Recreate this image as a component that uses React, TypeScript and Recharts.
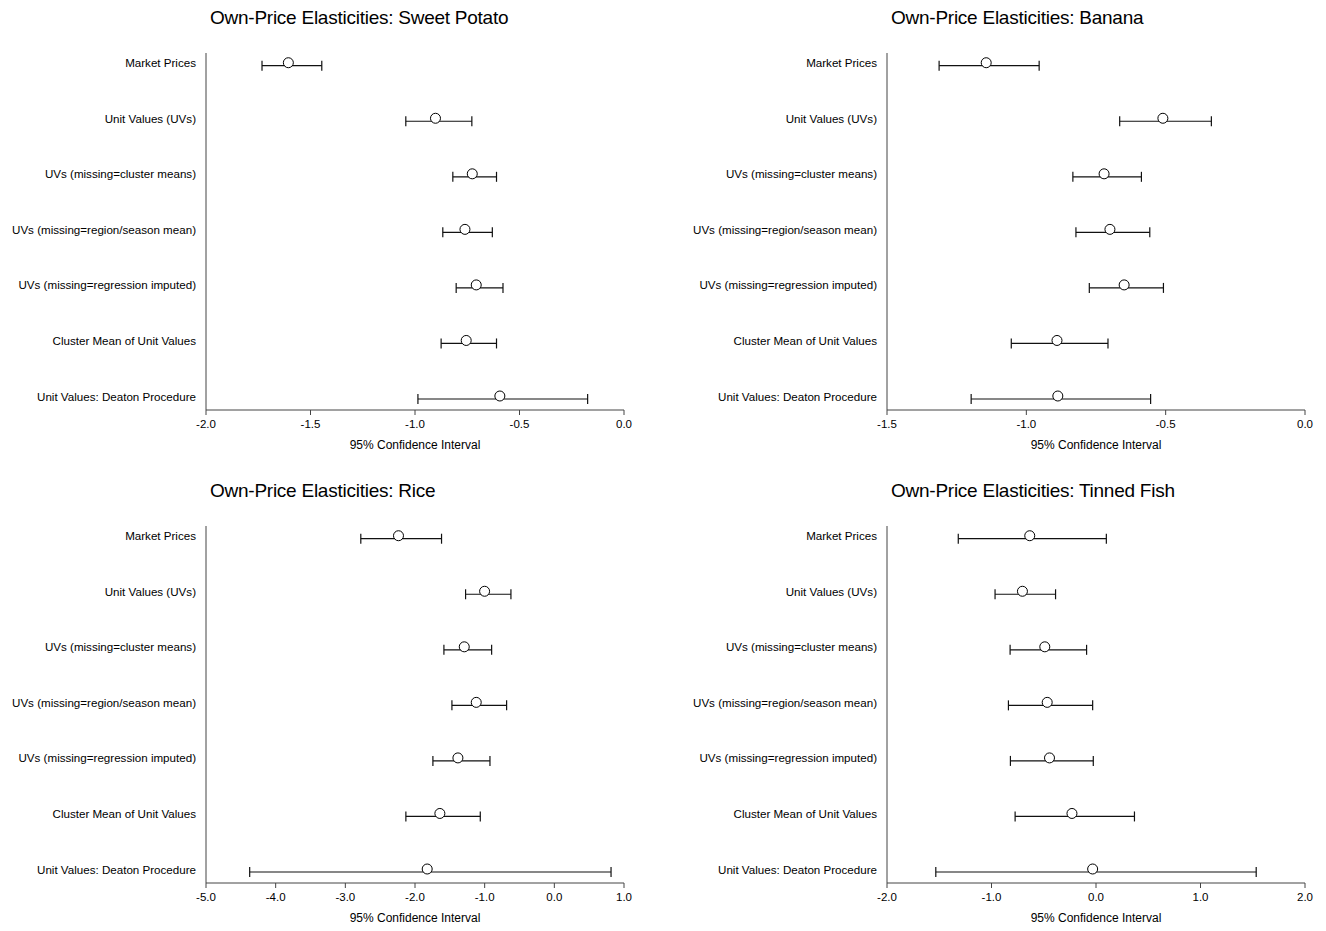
import React from "react";
import { ScatterChart, Scatter, XAxis, YAxis, ErrorBar } from "recharts";

const methods = [
  "Market Prices",
  "Unit Values (UVs)",
  "UVs (missing=cluster means)",
  "UVs (missing=region/season mean)",
  "UVs (missing=regression imputed)",
  "Cluster Mean of Unit Values",
  "Unit Values: Deaton Procedure",
];

const sweetPotatoEst = [-1.606, -0.902, -0.726, -0.761, -0.707, -0.755, -0.594];
const sweetPotatoLow = [-1.732, -1.044, -0.819, -0.867, -0.803, -0.875, -0.986];
const sweetPotatoHigh = [-1.446, -0.728, -0.61, -0.63, -0.579, -0.61, -0.174];

const bananaEst = [-1.144, -0.51, -0.721, -0.7, -0.649, -0.89, -0.887];
const bananaLow = [-1.313, -0.665, -0.833, -0.822, -0.774, -1.054, -1.198];
const bananaHigh = [-0.954, -0.336, -0.587, -0.557, -0.508, -0.707, -0.554];

const riceEst = [-2.237, -1.001, -1.293, -1.121, -1.384, -1.643, -1.825];
const riceLow = [-2.778, -1.274, -1.585, -1.47, -1.743, -2.131, -4.373];
const riceHigh = [-1.619, -0.623, -0.9, -0.685, -0.924, -1.063, 0.814];

const fishEst = [-0.634, -0.704, -0.49, -0.467, -0.445, -0.23, -0.032];
const fishLow = [-1.318, -0.966, -0.822, -0.838, -0.819, -0.774, -1.533];
const fishHigh = [0.099, -0.387, -0.09, -0.032, -0.026, 0.368, 1.533];

const sweetPotatoTicks = [-2, -1.5, -1, -0.5, 0];
const bananaTicks = [-1.5, -1, -0.5, 0];
const riceTicks = [-5, -4, -3, -2, -1, 0, 1];
const fishTicks = [-2, -1, 0, 1, 2];

const FONT = "'Liberation Sans', Arial, Helvetica, sans-serif";
const AXIS = "#444";

const makeRows = (est: number[], low: number[], high: number[]) =>
  est.map((e, i) => ({
    row: i + 1,
    est: e,
    err: [e - low[i], high[i] - e],
  }));

const MethodTick = (props: any) => {
  const { x, y, payload } = props;
  return (
    <text
      x={x}
      y={y - 3}
      textAnchor="end"
      dominantBaseline="central"
      fontSize={11.6}
      fill="#000"
      fontFamily={FONT}
    >
      {methods[payload.value - 1]}
    </text>
  );
};

const Dot = (props: any) => (
  <circle cx={props.cx} cy={props.cy - 3} r={5} fill="#fff" stroke="#000" strokeWidth={1} />
);

function Panel({
  title,
  rows,
  ticks,
  left,
  top,
}: {
  title: string;
  rows: { row: number; est: number; err: number[] }[];
  ticks: number[];
  left: number;
  top: number;
}) {
  return (
    <div style={{ position: "absolute", left, top, width: 640, height: 470 }}>
      <div
        style={{
          position: "absolute",
          left: 202,
          top: 0,
          fontSize: 19,
          lineHeight: "20px",
          letterSpacing: -0.25,
          color: "#000",
          fontFamily: FONT,
          whiteSpace: "nowrap",
        }}
      >
        {title}
      </div>
      <ScatterChart width={640} height={470} margin={{ top: 45, right: 24, left: 8, bottom: 28 }}>
        <XAxis
          type="number"
          dataKey="est"
          domain={[ticks[0], ticks[ticks.length - 1]]}
          ticks={ticks}
          allowDataOverflow
          height={40}
          stroke={AXIS}
          tickSize={5}
          tickMargin={5}
          tick={{ fill: "#000", fontSize: 11.5, fontFamily: FONT }}
          tickFormatter={(v: number) => v.toFixed(1)}
          label={{
            value: "95% Confidence Interval",
            position: "insideBottom",
            offset: 1,
            fill: "#000",
            fontSize: 12,
            fontFamily: FONT,
          }}
        />
        <YAxis
          type="number"
          dataKey="row"
          reversed
          domain={[0.771, 7.198]}
          ticks={[1, 2, 3, 4, 5, 6, 7]}
          interval={0}
          allowDataOverflow
          width={190}
          stroke={AXIS}
          tickLine={false}
          tickSize={6}
          tickMargin={4}
          tick={<MethodTick />}
        />
        <Scatter data={rows} shape={<Dot />} isAnimationActive={false}>
          <ErrorBar
            dataKey="err"
            direction="x"
            width={5}
            stroke="#111"
            strokeWidth={1.2}
            isAnimationActive={false}
          />
        </Scatter>
      </ScatterChart>
    </div>
  );
}

export default function App() {
  return (
    <div style={{ position: "relative", width: 1310, height: 915, background: "#fff" }}>
      <Panel
        title="Own-Price Elasticities: Sweet Potato"
        rows={makeRows(sweetPotatoEst, sweetPotatoLow, sweetPotatoHigh)}
        ticks={sweetPotatoTicks}
        left={0}
        top={0}
      />
      <Panel
        title="Own-Price Elasticities: Banana"
        rows={makeRows(bananaEst, bananaLow, bananaHigh)}
        ticks={bananaTicks}
        left={681}
        top={0}
      />
      <Panel
        title="Own-Price Elasticities: Rice"
        rows={makeRows(riceEst, riceLow, riceHigh)}
        ticks={riceTicks}
        left={0}
        top={473}
      />
      <Panel
        title="Own-Price Elasticities: Tinned Fish"
        rows={makeRows(fishEst, fishLow, fishHigh)}
        ticks={fishTicks}
        left={681}
        top={473}
      />
    </div>
  );
}
